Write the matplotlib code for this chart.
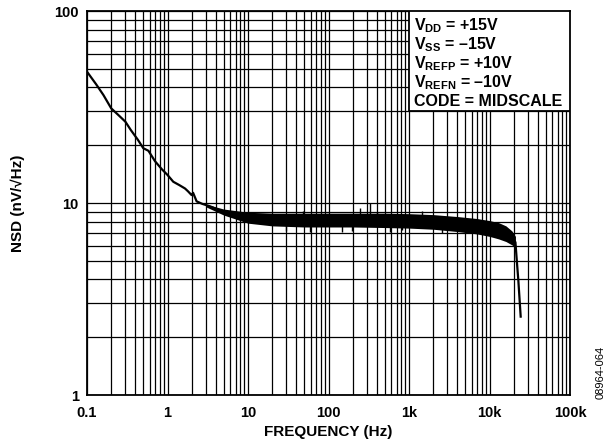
import numpy as np
import matplotlib
matplotlib.use('Agg')
from matplotlib import pyplot as plt
from matplotlib.patches import Rectangle
from matplotlib.ticker import FixedLocator, LogLocator, NullFormatter

plt.rcParams['font.family'] = ['Liberation Sans', 'DejaVu Sans']
plt.rcParams['font.weight'] = 'bold'
plt.rcParams['mathtext.fontset'] = 'custom'
plt.rcParams['mathtext.rm'] = 'Liberation Sans:bold'
plt.rcParams['mathtext.it'] = 'Liberation Sans:bold'
plt.rcParams['mathtext.bf'] = 'Liberation Sans:bold'

# main trace
freq = [0.1, 0.13, 0.16, 0.2, 0.25, 0.3, 0.35, 0.43, 0.5, 0.58, 0.7, 0.85, 1.0, 1.18,
        1.4, 1.65, 1.8, 1.99, 2.08, 2.3, 2.7, 3.4, 4.1, 5.4, 7, 9.6, 15, 22.8, 50, 100,
        300, 1000, 3000, 7000, 10000, 13000, 16000, 19000, 21000, 21800, 22800, 24400]
nsd = [48.3, 41.5, 36.5, 31.1, 28.5, 26.5, 24.0, 21.3, 19.3, 18.7, 16.5, 15.0, 14.0, 12.9,
       12.4, 11.9, 11.5, 11.0, 11.3, 10.2, 9.9, 9.6, 9.3, 8.85, 8.6, 8.4, 8.25, 8.2, 8.1, 8.1,
       8.1, 8.0, 7.9, 7.5, 7.35, 7.15, 6.9, 6.55, 6.25, 5.05, 3.97, 2.56]

# noise band envelope
band_f = [3, 5, 10, 20, 50, 100, 200, 500, 1000, 2000, 4000, 7000, 10000, 13000, 16000, 19000, 21000]
band_hi = [9.85, 9.3, 8.95, 8.85, 8.85, 8.85, 8.85, 8.85, 8.8, 8.7, 8.5, 8.3, 8.1, 7.9, 7.6, 7.15, 6.7]
band_lo = [9.55, 8.65, 7.85, 7.6, 7.5, 7.5, 7.5, 7.45, 7.4, 7.3, 7.1, 6.9, 6.7, 6.5, 6.3, 6.05, 5.85]

# isolated spikes (freq, low end, high end)
spike_f = [48, 245, 328, 400, 1440, 30, 59, 146, 195, 580, 820, 2600]
spike_lo = [8.5, 8.5, 8.5, 8.5, 8.4, 7.15, 7.05, 7.1, 7.15, 7.05, 7.2, 7.0]
spike_hi = [9.1, 9.4, 10.0, 9.0, 9.05, 7.8, 7.8, 7.8, 7.8, 7.8, 7.8, 7.6]

legend_lines = [r'$V_{DD}$ = +15V', r'$V_{SS}$ = –15V', r'$V_{REFP}$ = +10V',
                r'$V_{REFN}$ = –10V', 'CODE = MIDSCALE']

xticks = [0.1, 1, 10, 100, 1e3, 1e4, 1e5]
xlabels = ['0.1', '1', '10', '100', '1k', '10k', '100k']
yticks = [1, 10, 100]
ylabels = ['1', '10', '100']

fig = plt.figure(figsize=(6.1, 4.48), dpi=100)
ax = fig.add_axes([87/610, 1-395/448, 483/610, 384/448])
ax.set_xscale('log')
ax.set_yscale('log')
ax.set_xlim(0.1, 1e5)
ax.set_ylim(1, 100)

ax.xaxis.set_major_locator(FixedLocator(xticks))
ax.yaxis.set_major_locator(FixedLocator(yticks))
ax.xaxis.set_minor_locator(LogLocator(base=10, subs=np.arange(2, 10)))
ax.yaxis.set_minor_locator(LogLocator(base=10, subs=np.arange(2, 10)))
ax.xaxis.set_minor_formatter(NullFormatter())
ax.yaxis.set_minor_formatter(NullFormatter())
ax.set_xticklabels(xlabels)
ax.set_yticklabels(ylabels)
ax.tick_params(which='both', length=0, labelsize=10.5)
ax.tick_params(axis='x', pad=8)
ax.tick_params(axis='y', pad=6)
ax.grid(True, which='both', color='black', linewidth=0.9)
ax.set_axisbelow(True)
for s in ax.spines.values():
    s.set_linewidth(1.3)

ax.fill_between(band_f, band_lo, band_hi, color='black', linewidth=0, zorder=3)
ax.vlines(spike_f, spike_lo, spike_hi, color='black', linewidth=1.0, zorder=3)
ax.plot(freq, nsd, color='black', linewidth=1.6, zorder=4)

ax.add_patch(Rectangle((322/483, 1-100/384), 161/483, 100/384, transform=ax.transAxes,
                       facecolor='white', edgecolor='black', linewidth=1.3, zorder=5))
ybase = [30, 49, 68, 87, 106]
for txt, yb in zip(legend_lines, ybase):
    ax.text(327/483, 1-(yb-11)/384, txt, transform=ax.transAxes, fontsize=11.5,
            fontweight='bold', va='baseline', ha='left', zorder=6)

fig.text(328.5/610, 1-432/448, 'FREQUENCY (Hz)', fontsize=11, fontweight='bold',
         ha='center', va='center')
fig.text(18/610, 1-203/448, 'NSD (nV/√Hz)', rotation=90, fontsize=11, fontweight='bold',
         ha='center', va='center')

fig.text(601/610, 1-372/448, '08964-064', rotation=90, fontsize=8, fontweight='normal',
         ha='center', va='center')

fig.savefig('out.png', dpi=100)
